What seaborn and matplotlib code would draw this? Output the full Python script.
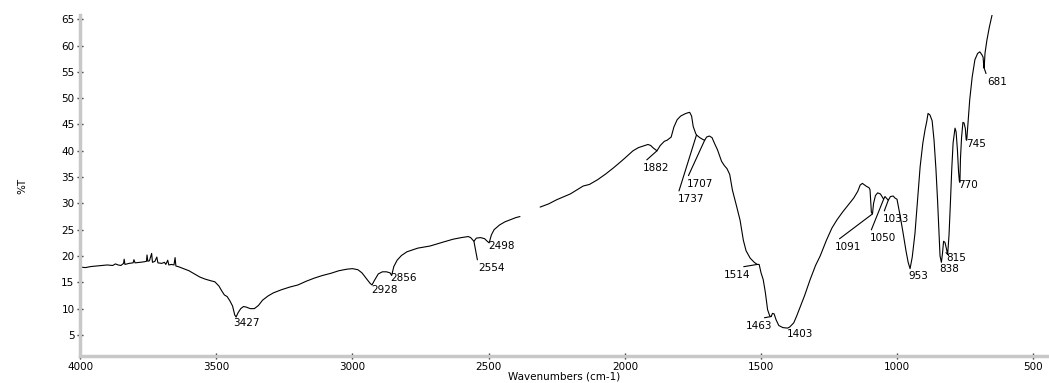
import numpy as np
import pandas as pd
import matplotlib
matplotlib.use("Agg")
import matplotlib.pyplot as plt
import seaborn as sns
from matplotlib.ticker import MultipleLocator

# IR spectrum (wavenumber cm-1, %T)
wavenumber = [
    4000, 3980, 3960, 3940, 3920, 3900, 3880, 3870, 3860, 3850, 3840, 3838, 3835,
    3820, 3805, 3802, 3798, 3780, 3765, 3756, 3754, 3751, 3745, 3737, 3734, 3725,
    3718, 3714, 3700, 3690, 3685, 3678, 3674, 3665, 3655, 3651, 3648, 3640, 3630,
    3620, 3600, 3580, 3560, 3540, 3520, 3505, 3490, 3480, 3470, 3460, 3450, 3440,
    3432, 3427, 3420, 3410, 3400, 3390, 3375, 3360, 3345, 3330, 3310, 3290, 3260,
    3230, 3200, 3170, 3140, 3110, 3080, 3050, 3020, 3000, 2980, 2965, 2950, 2935,
    2928, 2920, 2905, 2890, 2875, 2862, 2856, 2848, 2836, 2820, 2800, 2760, 2715,
    2670, 2630, 2600, 2575, 2566, 2554, 2545, 2530, 2515, 2505, 2498, 2490, 2480,
    2460, 2440, 2420, 2400, 2385,
    2311, 2280, 2250, 2200, 2153, 2130, 2100, 2070, 2043, 2020, 2000, 1970, 1950,
    1933, 1915, 1905, 1895, 1882, 1870, 1855, 1845, 1830, 1820, 1808, 1795, 1780,
    1770, 1762, 1755, 1749, 1740, 1737, 1725, 1712, 1707, 1700, 1690, 1680, 1670,
    1660, 1645, 1635, 1625, 1615, 1605, 1590, 1577, 1565, 1555, 1540, 1525, 1514,
    1507, 1500, 1492, 1484, 1476, 1468, 1463, 1458, 1452, 1445, 1435, 1420, 1403,
    1395, 1380, 1370, 1355, 1340, 1320, 1300, 1283, 1260, 1240, 1221, 1200, 1180,
    1160, 1145, 1136, 1128, 1120, 1112, 1104, 1100, 1095, 1091, 1087, 1080, 1072,
    1062, 1055, 1050, 1045, 1040, 1033, 1025, 1015, 1008, 1001, 990, 979, 968,
    960, 953, 945, 935, 925, 916, 906, 898, 892, 887, 880, 872, 865, 858, 852,
    847, 843, 838, 834, 830, 825, 820, 815, 810, 805, 800, 795, 788, 784, 779,
    775, 772, 770, 768, 764, 759, 755, 750, 747, 745, 740, 734, 725, 715, 705,
    697, 690, 685, 682, 681, 678, 671, 662, 652,
]
transmittance = [
    17.9, 17.8, 18.0, 18.1, 18.2, 18.3, 18.2, 18.5, 18.3, 18.2, 18.6, 19.4, 18.4,
    18.6, 18.7, 19.3, 18.7, 18.8, 18.9, 19.0, 20.2, 19.0, 19.1, 20.5, 18.8, 19.0,
    19.8, 18.7, 18.6, 18.8, 18.4, 19.2, 18.3, 18.4, 18.3, 19.7, 18.1, 18.0, 17.8,
    17.6, 17.2, 16.6, 16.0, 15.6, 15.3, 15.1, 14.3, 13.4, 12.6, 12.3, 11.5, 10.5,
    8.8, 8.4, 9.2, 10.0, 10.4, 10.3, 10.0, 10.0, 10.6, 11.6, 12.4, 13.0, 13.6,
    14.1, 14.5, 15.2, 15.8, 16.3, 16.7, 17.2, 17.5, 17.6, 17.4, 16.8, 15.8, 14.8,
    14.5, 15.3, 16.6, 17.0, 17.0, 16.8, 16.3, 18.0, 19.2, 20.1, 20.8, 21.5, 21.9,
    22.6, 23.2, 23.5, 23.7, 23.5, 22.8, 23.4, 23.5, 23.3, 22.8, 22.5, 24.0, 25.0,
    25.9, 26.5, 26.9, 27.3, 27.5,
    29.3, 29.9, 30.7, 31.8, 33.3, 33.6, 34.5, 35.6, 36.7, 37.7, 38.6, 40.0, 40.6,
    40.9, 41.2, 41.0, 40.5, 40.0, 41.0, 41.8, 42.0, 42.6, 44.5, 45.9, 46.6, 47.0,
    47.2, 47.3, 46.6, 44.6, 43.3, 43.0, 42.5, 42.1, 42.0, 42.6, 42.8, 42.5, 41.3,
    40.2, 38.0, 37.2, 36.6, 35.5, 32.5, 29.5, 26.8, 23.0, 21.0, 19.6, 18.8, 18.4,
    18.4, 16.8, 15.5, 13.0, 9.8, 8.6, 8.5, 9.1, 9.0, 7.9, 6.8, 6.4, 6.3,
    6.5, 7.3, 8.5, 10.5, 12.5, 15.5, 18.2, 20.0, 23.0, 25.3, 26.9, 28.4, 29.7,
    31.0, 32.3, 33.5, 33.8, 33.5, 33.2, 33.0, 32.6, 28.3, 28.0, 30.0, 31.5, 32.0,
    31.8, 31.2, 30.8, 31.3, 31.0, 30.6, 31.3, 31.4, 31.0, 30.8, 27.8, 24.5, 21.0,
    18.8, 17.6, 19.8, 24.3, 31.0, 37.0, 41.5, 44.0, 45.5, 47.1, 46.8, 45.7, 42.0,
    36.5, 30.5, 24.5, 20.0, 18.8, 20.5, 22.8, 22.6, 21.5, 20.3, 24.0, 30.0, 36.5,
    41.5, 44.3, 43.6, 40.0, 36.0, 34.2, 34.0, 38.5, 42.5, 45.4, 45.3, 44.2, 42.1,
    42.0, 45.5, 49.7, 54.0, 57.3, 58.5, 58.8, 58.3, 57.8, 55.8, 55.7, 58.5, 61.0,
    63.5, 65.8,
]

# peak labels
peak_labels = ["3427", "2928", "2856", "2554", "2498", "1882", "1737", "1707",
               "1514", "1463", "1403", "1091", "1050", "1033", "953", "838",
               "815", "770", "745", "681"]

# label placement (text left edge in cm-1, text centre in %T, leader line or not)
label_pos = {
    "3427": (3438, 7.3, False), "2928": (2932, 13.5, False),
    "2856": (2862, 15.8, False), "2554": (2539, 17.7, True),
    "2498": (2502, 21.9, False), "1882": (1933, 36.7, True),
    "1737": (1805, 30.8, True), "1707": (1772, 33.7, True),
    "1514": (1636, 16.4, True), "1463": (1555, 6.7, True),
    "1403": (1405, 5.2, False), "1091": (1228, 21.7, True),
    "1050": (1100, 23.4, True), "1033": (1052, 27.0, True),
    "953": (960, 16.2, False), "838": (846, 17.6, False),
    "815": (821, 19.7, True), "770": (777, 33.5, False),
    "745": (747, 41.2, False), "681": (670, 53.1, True),
}

df = pd.DataFrame({"wn": wavenumber, "T": transmittance})
df["seg"] = (df["wn"] < 2350).astype(int)  # gap in the CO2 region

sns.set_style("white")
plt.rcParams["font.family"] = ["DejaVu Sans"]
plt.rcParams["text.color"] = "black"
plt.rcParams["axes.labelcolor"] = "black"
plt.rcParams["xtick.labelcolor"] = "black"
plt.rcParams["ytick.labelcolor"] = "black"

fig = plt.figure(figsize=(10.49, 3.83), dpi=100)
ax = fig.add_axes([80 / 1049, 27 / 383, 969 / 1049, 341 / 383])

sns.lineplot(data=df, x="wn", y="T", units="seg", estimator=None, sort=False,
             color="black", linewidth=0.8, ax=ax)

for lab in peak_labels:
    tx, ty, leader = label_pos[lab]
    pk = float(lab)
    py = np.interp(pk, df["wn"][::-1], df["T"][::-1])
    if leader:
        ax.annotate(lab, xy=(pk, py), xytext=(tx, ty), fontsize=7.5,
                    ha="left", va="center", color="black",
                    arrowprops=dict(arrowstyle="-", color="black", lw=0.8,
                                    relpos=(0, 1), shrinkA=0, shrinkB=0))
    else:
        ax.text(tx, ty, lab, fontsize=7.5, ha="left", va="center", color="black")

ax.set_xlim(4000, 443)
ax.set_ylim(1, 65.8)
ax.xaxis.set_major_locator(MultipleLocator(500))
ax.xaxis.set_minor_locator(MultipleLocator(100))
ax.yaxis.set_minor_locator(MultipleLocator(1))
ax.set_yticks(range(5, 66, 5))

for side in ["top", "right"]:
    ax.spines[side].set_visible(False)
for side in ["left", "bottom"]:
    ax.spines[side].set_color("#c8c8c8")
    ax.spines[side].set_linewidth(2.5)

ax.tick_params(which="major", direction="inout", length=4, width=1,
               color="#333333", labelsize=7.5, pad=2, bottom=True, left=True)
ax.tick_params(which="minor", direction="inout", length=2, width=1,
               color="#555555", bottom=True, left=True)

ax.set_xlabel("Wavenumbers (cm-1)", fontsize=7.5, labelpad=0)
ax.set_ylabel("%T", fontsize=7.5, labelpad=24)

fig.savefig("out.png", dpi=100)
